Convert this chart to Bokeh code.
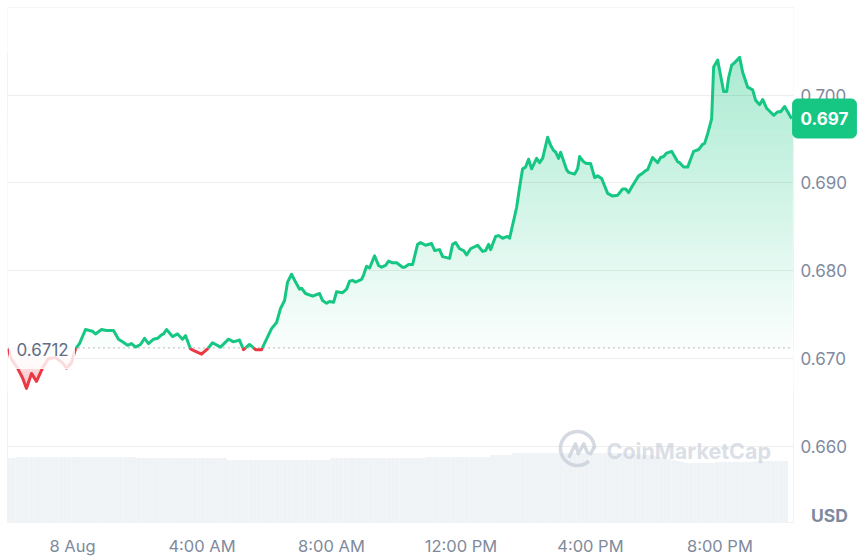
from bokeh.plotting import figure
from bokeh.models import Range1d, FixedTicker, Label
from bokeh.embed import file_html
from bokeh.resources import INLINE
import numpy as np

# ---------- data ----------
hours = [-1.978,-1.916,-1.70,-1.545,-1.421,-1.267,-1.112,-.927,-.742,-.525,-.309,-.185,-.031,.093,.216,.402,.618,.711,.896,1.051,
1.267,1.421,1.545,1.700,1.823,1.947,2.101,2.225,2.348,2.503,2.627,2.750,2.812,2.905,3.090,3.245,3.399,3.492,3.646,3.801,
3.986,4.172,4.326,4.573,4.820,4.975,5.160,5.284,5.469,5.655,5.840,5.995,6.149,6.304,6.427,6.551,6.644,6.767,6.891,7.014,
7.076,7.200,7.416,7.632,7.725,7.849,7.941,8.065,8.158,8.343,8.467,8.559,8.652,8.745,8.930,8.992,9.085,9.177,9.332,9.455,
9.548,9.672,9.764,9.888,10.012,10.197,10.259,10.382,10.506,10.661,10.753,10.908,11.093,11.186,11.340,11.433,11.649,11.742,11.835,11.958,
12.082,12.175,12.298,12.515,12.669,12.762,12.854,12.916,13.071,13.163,13.287,13.442,13.503,13.720,13.812,13.905,13.998,14.090,14.183,14.338,
14.430,14.523,14.678,14.770,14.863,14.925,15.017,15.079,15.265,15.326,15.512,15.605,15.666,15.790,15.883,16.006,16.130,16.222,16.346,16.532,
16.686,16.841,16.995,17.088,17.180,17.304,17.489,17.613,17.706,17.768,17.922,18.077,18.169,18.262,18.355,18.509,18.695,18.756,18.880,19.004,
19.189,19.343,19.467,19.529,19.622,19.745,19.807,19.931,19.992,20.116,20.209,20.270,20.363,20.456,20.610,20.703,20.858,21.012,21.105,21.228,
21.321,21.445,21.661,21.785,21.877,22.001,22.217]
prices = [.6711,.6701,.6689,.6678,.6666,.6683,.6674,.6689,.6700,.6701,.6695,.6689,.6695,.6711,.6717,.6733,.6731,.6728,.6733,.6732,
.6732,.6722,.6719,.6715,.6717,.6713,.6716,.6723,.6717,.6722,.6723,.6727,.6728,.6733,.6725,.6728,.6722,.6726,.6711,.6708,
.6705,.6711,.6718,.6713,.6722,.6719,.6721,.6710,.6716,.6710,.6710,.6722,.6734,.6741,.6757,.6766,.6787,.6796,.6787,.6779,
.6780,.6774,.6771,.6774,.6766,.6763,.6765,.6764,.6776,.6775,.6779,.6788,.6789,.6787,.6790,.6795,.6805,.6803,.6817,.6806,
.6804,.6806,.6811,.6809,.6809,.6804,.6804,.6807,.6807,.6830,.6832,.6829,.6831,.6823,.6824,.6816,.6814,.6830,.6832,.6825,
.6823,.6818,.6825,.6829,.6822,.6823,.6830,.6824,.6839,.6840,.6837,.6839,.6837,.6872,.6895,.6916,.6918,.6927,.6916,.6928,
.6923,.6928,.6952,.6943,.6937,.6935,.6928,.6935,.6915,.6912,.6910,.6916,.6930,.6924,.6922,.6922,.6906,.6908,.6905,.6888,
.6885,.6886,.6893,.6893,.6889,.6897,.6908,.6911,.6914,.6915,.6929,.6923,.6929,.6930,.6934,.6936,.6924,.6923,.6918,.6918,
.6936,.6938,.6944,.6945,.6956,.6973,.7032,.7040,.7028,.7004,.7004,.7020,.7034,.7037,.7043,.7026,.7009,.7006,.6994,.6989,
.6995,.6985,.6977,.6981,.6981,.6987,.6973]
volumes = [64,64,
65,65,65,65,65,65,65,65,65,65,65,65,65,65,65,65,65,65,65,65,65,65,65,65,65,65,65,65,
64,64,64,64,64,64,64,64,64,64,64,64,64,64,64,64,64,64,64,64,64,
62,62,62,62,62,62,62,62,62,62,62,62,62,62,62,62,62,62,62,62,62,62,62,62,
64,64,64,64,64,64,64,64,64,64,64,64,64,64,64,64,64,64,64,64,64,64,
65,65,65,65,65,65,65,65,65,65,65,65,65,65,65,
67,67,67,67,67,
69,69,69,69,69,69,69,69,69,69,69,69,69,69,69,69,69,69,69,69,69,69,69,69,69,69,69,69,
68,68,67,67,67,
66,65,64,63,62,61,60,
59,59,59,59,59,59,59,
60,60,60,60,60,60,60,60,60,61,61,61,61,61,61,61,61]
volume_start_hour = -1.96
volume_step_hours = 0.1333
reference_price = 0.6712
last_price_text = "0.697"
y_ticks = [0.66, 0.67, 0.68, 0.69, 0.70]
y_tick_labels = ["0.660", "0.670", "0.680", "0.690", "0.700"]
x_ticks = [0, 4, 8, 12, 16, 20]
x_tick_labels = ["8 Aug", "4:00 AM", "8:00 AM", "12:00 PM", "4:00 PM", "8:00 PM"]

# ---------- scales ----------
def X(px):  # page pixel -> hour
    return (px - 72) / 32.37
def Y(py):  # page pixel -> price
    return 0.67 + (358 - py) / 8780

XMIN, XMAX, YMIN, YMAX = X(7), X(793), Y(522), Y(7)
GREEN, RED, GREY, GRID = "#16c784", "#ea3943", "#808a9d", "#eff2f5"

p = figure(width=858, height=556, frame_width=786, frame_height=515,
           x_range=Range1d(XMIN, XMAX), y_range=Range1d(YMIN, YMAX),
           output_backend="svg", toolbar_location=None, y_axis_location="right",
           min_border_left=7, min_border_top=7, min_border_right=65, min_border_bottom=0,
           background_fill_color="white", border_fill_color="white")
p.outline_line_color = GRID
p.grid.visible = False
p.extra_y_ranges = {"vol": Range1d(0, 515)}

for ax in (p.xaxis[0], p.yaxis[0]):
    ax.axis_line_color = None
    ax.major_tick_line_color = None
    ax.minor_tick_line_color = None
    ax.major_label_text_color = GREY
    ax.major_label_text_font = "Inter"
p.xaxis[0].major_label_text_font_size = "16.5px"
p.yaxis[0].major_label_text_font_size = "17px"
p.xaxis[0].ticker = FixedTicker(ticks=x_ticks)
p.xaxis[0].major_label_overrides = dict(zip(x_ticks, x_tick_labels))
p.xaxis[0].major_label_standoff = 7
p.yaxis[0].ticker = FixedTicker(ticks=y_ticks)
p.yaxis[0].major_label_overrides = dict(zip(y_ticks, y_tick_labels))
p.yaxis[0].major_label_standoff = 1

# ---------- volume bars ----------
vol_x = [volume_start_hour + i * volume_step_hours for i in range(len(volumes))]
p.vbar(x=vol_x, top=volumes, bottom=0, width=volume_step_hours * 0.8,
       color="#f0f3f6", y_range_name="vol")

# ---------- price split at the reference line ----------
hh, pp = [hours[0]], [prices[0]]
for i in range(1, len(hours)):
    a, b = prices[i - 1], prices[i]
    if (a - reference_price) * (b - reference_price) < 0:
        t = (reference_price - a) / (b - a)
        hh.append(hours[i - 1] + t * (hours[i] - hours[i - 1]))
        pp.append(reference_price)
    hh.append(hours[i])
    pp.append(b)
hh, pp = np.array(hh), np.array(pp)

# ---------- gradient fills: nested bands, then white masks ----------
def mix(c, a):
    return "#%02x%02x%02x" % tuple(int(round(255 + (v - 255) * a)) for v in c)

top_p, low_p = pp.max(), pp.min()
levels = np.linspace(reference_price, top_p, 140)
p.quad(left=hh[0], right=hh[-1], bottom=levels, top=top_p + 0.0005,
       color=[mix((22, 199, 132), 0.02 + 0.34 * (l - reference_price) / (top_p - reference_price)) for l in levels])
levels_r = np.linspace(reference_price, low_p, 40)
p.quad(left=hh[0], right=hh[-1], top=levels_r, bottom=low_p - 0.0001,
       color=[mix((234, 57, 67), 0.03 + 0.30 * (reference_price - l) / (reference_price - low_p)) for l in levels_r])
# masks run a little past both ends so the bands leave no edge
mx = np.concatenate(([hh[0] - 0.1], hh, [hh[-1] + 0.1]))
mp = np.concatenate(([pp[0]], pp, [pp[-1]]))
p.varea(x=mx, y1=np.maximum(mp, reference_price), y2=YMAX, color="white")
p.varea(x=mx, y1=low_p - 0.0003, y2=np.minimum(mp, reference_price), color="white")

# ---------- grid ----------
p.hspan(y=y_ticks, line_color="black", line_alpha=0.065, line_width=1)

# ---------- reference line and price line ----------
p.line(x=[hh[0], hh[-1]], y=[reference_price] * 2, line_color="#8a93a5",
       line_dash="1 4", line_width=1.3)
green = np.where(pp >= reference_price, pp, np.nan)
red = np.where(pp <= reference_price, pp, np.nan)
p.line(x=hh, y=red, line_color=RED, line_width=3, line_join="round")
p.line(x=hh, y=green, line_color=GREEN, line_width=3, line_join="round")

# ---------- reference price label ----------
p.quad(left=X(9), right=X(74), top=Y(340), bottom=Y(368), color="white", alpha=0.82)
p.add_layout(Label(x=X(16), y=reference_price, text=f"{reference_price:.4f}", text_font="Inter",
                   text_font_size="17px", text_color="#616e85",
                   text_align="left", text_baseline="middle", y_offset=-2))

# ---------- watermark ----------
WM = "#c3cad6"
p.arc(x=X(577), y=Y(448), radius=17, radius_units="screen", start_angle=0, end_angle=np.radians(312),
      direction="anticlock", line_color=WM, line_width=3.6, line_alpha=0.7)
p.line(x=[X(v) for v in (568.3, 575, 577.7, 583.3, 586.7, 590, 593.5)],
       y=[Y(v) for v in (457.3, 443.3, 453.3, 443.3, 451.7, 453.3, 447)],
       line_color=WM, line_width=3.4, line_alpha=0.7, line_join="round")
p.add_layout(Label(x=X(606), y=Y(450), text="CoinMarketCap", text_font="Inter", text_font_size="21.5px",
                   text_font_style="bold", text_color=WM, text_alpha=0.62,
                   text_align="left", text_baseline="middle"))

# ---------- right side: labels in the right panel are not clipped to the frame ----------
p.add_layout(Label(x=X(829), y=Y(515), text="USD", text_font="Inter",
                   text_font_size="17.5px", text_font_style="bold", text_color=GREY,
                   text_align="center", text_baseline="middle"), "right")
p.add_layout(Label(x=X(824), y=Y(118), text=last_price_text, text_font="Inter",
                   text_font_size="17px", text_font_style="bold", text_color="white",
                   text_align="center", text_baseline="middle",
                   background_fill_color=GREEN, border_line_color=GREEN,
                   padding=(8, 8, 13, 13), border_radius=5), "right")

open("out.html", "w").write(file_html(p, INLINE))
